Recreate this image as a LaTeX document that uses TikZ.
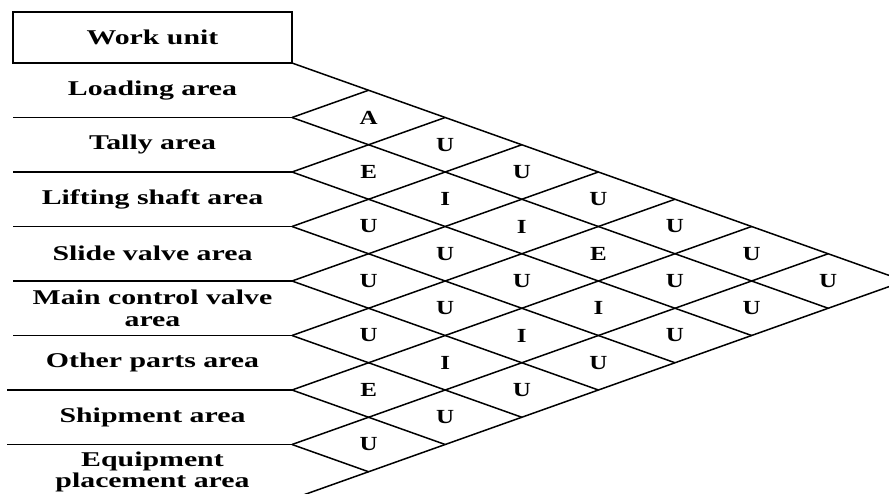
\documentclass[tikz,border=0pt]{standalone}
\usepackage{fontspec}
\setmainfont[FakeStretch=1.42]{Liberation Serif}
\newfontfamily\cellfont[FakeStretch=1.25]{Liberation Serif}
\tikzset{
  every picture/.style = {x=1pt, y=-1pt},
  grid/.style = {line width=1.5pt},
  unitbox/.style = {
    draw,
    line width=1.5pt,
    outer sep=0pt,
    minimum width=279pt,
    minimum height=51pt,
    font=\fontsize{21}{24}\selectfont\bfseries
  },
  area/.style = {
    align=center,
    font=\fontsize{21}{21.5}\selectfont\bfseries
  },
  rel/.style = {
    inner sep=0pt,
    font=\cellfont\fontsize{20}{24}\selectfont\bfseries
  }
}
\begin{document}
\begin{tikzpicture}
  \useasboundingbox (0,0) rectangle (889,493);
  \node[unitbox] (work) at (152.5,37.5) {Work unit};
  % left corners of the rows
  \coordinate (l0) at (work.south east);
  \coordinate (l1) at (292,117.5);
  \coordinate (l2) at (292,172);
  \coordinate (l3) at (292,226.5);
  \coordinate (l4) at (292,281);
  \coordinate (l5) at (292,335.5);
  \coordinate (l6) at (292,390);
  \coordinate (l7) at (292,444.5);
  \coordinate (l8) at (292,499);
  % upper and lower edge of the triangle
  \coordinate (apex) at (904.8,281);
  \coordinate (t1) at (368.6,90.25);
  \coordinate (t2) at (445.2,117.5);
  \coordinate (t3) at (521.8,144.75);
  \coordinate (t4) at (598.4,172);
  \coordinate (t5) at (675,199.25);
  \coordinate (t6) at (751.6,226.5);
  \coordinate (t7) at (828.2,253.75);
  \coordinate (b1) at (828.2,308.25);
  \coordinate (b2) at (751.6,335.5);
  \coordinate (b3) at (675,362.75);
  \coordinate (b4) at (598.4,390);
  \coordinate (b5) at (521.8,417.25);
  \coordinate (b6) at (445.2,444.5);
  \coordinate (b7) at (368.6,471.75);

  % row lines
  \draw[grid] (l1) -- ++(-279,0);
  \draw[grid] (l2) -- ++(-279,0);
  \draw[grid] (l3) -- ++(-279,0);
  \draw[grid] (l4) -- ++(-279,0);
  \draw[grid] (l5) -- ++(-279,0);
  \draw[grid] (l6) -- ++(-285,0);
  \draw[grid] (l7) -- ++(-285,0);

  % diagonals going down
  \draw[grid] (l0) -- (apex);
  \draw[grid] (l1) -- (b1);
  \draw[grid] (l2) -- (b2);
  \draw[grid] (l3) -- (b3);
  \draw[grid] (l4) -- (b4);
  \draw[grid] (l5) -- (b5);
  \draw[grid] (l6) -- (b6);
  \draw[grid] (l7) -- (b7);
  % diagonals going up
  \draw[grid] (l1) -- (t1);
  \draw[grid] (l2) -- (t2);
  \draw[grid] (l3) -- (t3);
  \draw[grid] (l4) -- (t4);
  \draw[grid] (l5) -- (t5);
  \draw[grid] (l6) -- (t6);
  \draw[grid] (l7) -- (t7);
  \draw[grid] (l8) -- (apex);

  \node[area] (load) at (152.5,90.25) {Loading area};
  \node[area] (tally) at (152.5,144.75) {Tally area};
  \node[area] (lift) at (152.5,199.25) {Lifting shaft area};
  \node[area] (slide) at (152.5,253.75) {Slide valve area};
  \node[area] (mcv) at (152.5,308.25) {Main control valve\\area};
  \node[area] (other) at (152.5,362.75) {Other parts area};
  \node[area] (ship) at (152.5,417.25) {Shipment area};
  \node[area] (equip) at (152.5,471.75) {Equipment\\placement area};

  % neighbouring units
  \node[rel] (r12) at (368.6,117.5) {A};
  \node[rel] (r23) at (368.6,172) {E};
  \node[rel] (r34) at (368.6,226.5) {U};
  \node[rel] (r45) at (368.6,281) {U};
  \node[rel] (r56) at (368.6,335.5) {U};
  \node[rel] (r67) at (368.6,390) {E};
  \node[rel] (r78) at (368.6,444.5) {U};
  % two apart
  \node[rel] (r13) at (445.2,144.75) {U};
  \node[rel] (r24) at (445.2,199.25) {I};
  \node[rel] (r35) at (445.2,253.75) {U};
  \node[rel] (r46) at (445.2,308.25) {U};
  \node[rel] (r57) at (445.2,362.75) {I};
  \node[rel] (r68) at (445.2,417.25) {U};
  % three apart
  \node[rel] (r14) at (521.8,172) {U};
  \node[rel] (r25) at (521.8,226.5) {I};
  \node[rel] (r36) at (521.8,281) {U};
  \node[rel] (r47) at (521.8,335.5) {I};
  \node[rel] (r58) at (521.8,390) {U};
  % four apart
  \node[rel] (r15) at (598.4,199.25) {U};
  \node[rel] (r26) at (598.4,253.75) {E};
  \node[rel] (r37) at (598.4,308.25) {I};
  \node[rel] (r48) at (598.4,362.75) {U};
  % five, six and seven apart
  \node[rel] (r16) at (675,226.5) {U};
  \node[rel] (r27) at (675,281) {U};
  \node[rel] (r38) at (675,335.5) {U};
  \node[rel] (r17) at (751.6,253.75) {U};
  \node[rel] (r28) at (751.6,308.25) {U};
  \node[rel] (r18) at (828.2,281) {U};
\end{tikzpicture}
\end{document}
